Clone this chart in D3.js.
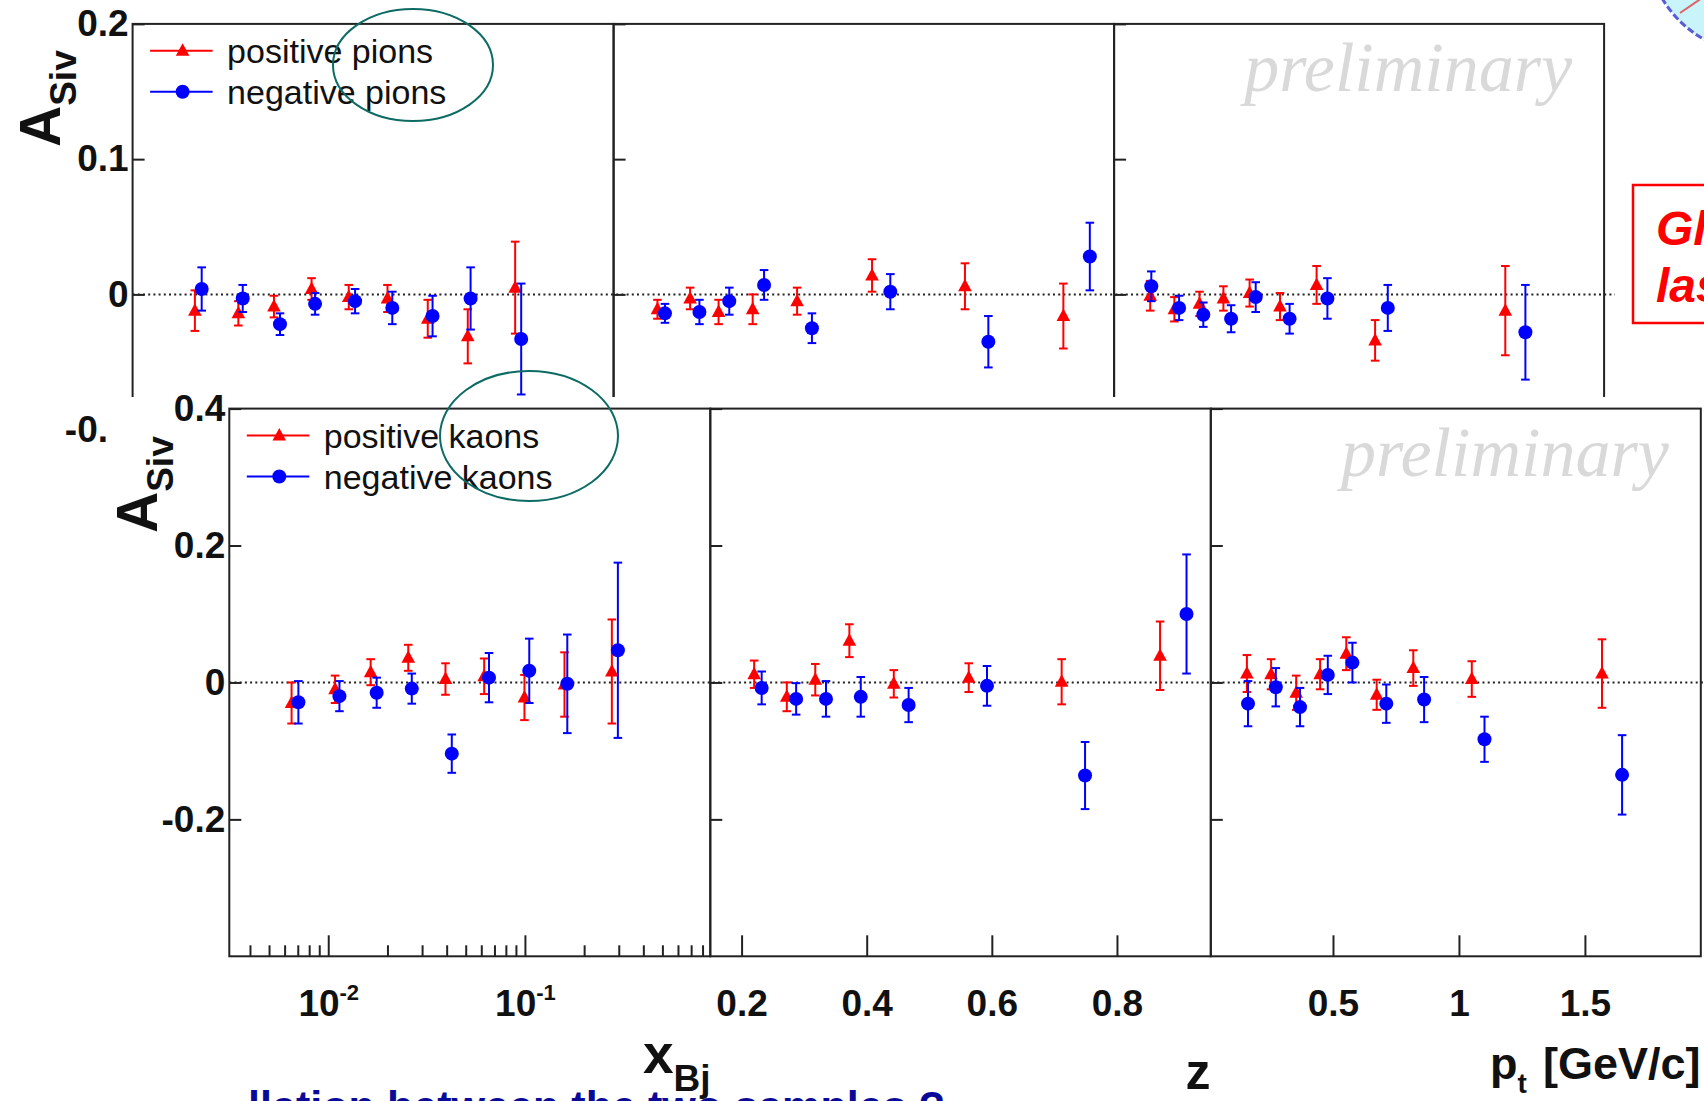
<!DOCTYPE html>
<html><head><meta charset="utf-8">
<script src="https://d3js.org/d3.v7.min.js"></script>
<style>html,body{margin:0;padding:0;background:#fff;overflow:hidden}</style>
</head><body><svg id="c" width="1704" height="1101"></svg>
<script>
// ---------- bin centres (shared binning) ----------
const xbjPosX = [0.00651, 0.01083, 0.01643, 0.02552, 0.03945, 0.06206, 0.09945, 0.1589, 0.2767];
const xbjNegX = [0.00705, 0.01140, 0.01763, 0.02659, 0.04247, 0.06566, 0.1052, 0.1642, 0.2969];
const zPosX = [0.2201, 0.2723, 0.3178, 0.3723, 0.4433, 0.5631, 0.7116, 0.8689];
const zNegX = [0.2321, 0.2872, 0.3349, 0.3905, 0.4670, 0.5923, 0.7490, 0.9112];
const ptPosX = [0.1583, 0.2543, 0.3540, 0.4489, 0.5529, 0.6735, 0.8188, 1.0510, 1.5678];
const ptNegX = [0.1627, 0.2730, 0.3691, 0.4794, 0.5771, 0.7116, 0.8617, 1.1014, 1.6476];

// ---------- pions ----------
const pionXbjPosY = [-0.012, -0.014, -0.009, 0.004, -0.002, -0.003, -0.018, -0.031, 0.005];
const pionXbjPosE = [0.015, 0.009, 0.008, 0.008, 0.009, 0.010, 0.014, 0.020, 0.034];
const pionXbjNegY = [0.004, -0.003, -0.022, -0.007, -0.005, -0.010, -0.016, -0.003, -0.033];
const pionXbjNegE = [0.016, 0.010, 0.008, 0.008, 0.009, 0.012, 0.015, 0.023, 0.041];
const pionZPosY = [-0.011, -0.003, -0.013, -0.011, -0.005, 0.014, 0.006, -0.016];
const pionZPosE = [0.007, 0.008, 0.009, 0.011, 0.010, 0.012, 0.017, 0.024];
const pionZNegY = [-0.014, -0.013, -0.005, 0.007, -0.025, 0.002, -0.035, 0.028];
const pionZNegE = [0.007, 0.009, 0.010, 0.011, 0.011, 0.013, 0.019, 0.025];
const pionPtPosY = [-0.001, -0.011, -0.007, -0.003, 0.001, -0.009, 0.007, -0.034, -0.012];
const pionPtPosE = [0.011, 0.009, 0.009, 0.009, 0.010, 0.010, 0.014, 0.015, 0.033];
const pionPtNegY = [0.006, -0.010, -0.015, -0.018, -0.002, -0.018, -0.003, -0.010, -0.028];
const pionPtNegE = [0.011, 0.009, 0.009, 0.010, 0.011, 0.011, 0.015, 0.017, 0.035];

// ---------- kaons ----------
const kaonXbjPosY = [-0.030, -0.010, 0.015, 0.036, 0.005, 0.009, -0.022, -0.003, 0.016];
const kaonXbjPosE = [0.030, 0.020, 0.019, 0.019, 0.023, 0.026, 0.033, 0.047, 0.076];
const kaonXbjNegY = [-0.029, -0.020, -0.015, -0.009, -0.104, 0.007, 0.017, -0.002, 0.047];
const kaonXbjNegE = [0.031, 0.022, 0.022, 0.022, 0.028, 0.036, 0.047, 0.072, 0.128];
const kaonZPosY = [0.012, -0.021, 0.004, 0.061, -0.002, 0.007, 0.001, 0.039];
const kaonZPosE = [0.020, 0.021, 0.023, 0.024, 0.020, 0.021, 0.033, 0.050];
const kaonZNegY = [-0.008, -0.024, -0.024, -0.021, -0.033, -0.005, -0.136, 0.100];
const kaonZNegE = [0.024, 0.023, 0.026, 0.029, 0.025, 0.029, 0.049, 0.087];
const kaonPtPosY = [0.013, 0.012, -0.015, 0.012, 0.042, -0.018, 0.021, 0.005, 0.013];
const kaonPtPosE = [0.027, 0.022, 0.025, 0.022, 0.024, 0.022, 0.026, 0.026, 0.050];
const kaonPtNegY = [-0.031, -0.007, -0.036, 0.011, 0.029, -0.031, -0.025, -0.083, -0.135];
const kaonPtNegE = [0.033, 0.028, 0.028, 0.028, 0.029, 0.028, 0.033, 0.033, 0.058];

// ---------- axes / labels ----------
const pionYTicks = [-0.1, 0, 0.1, 0.2];
const kaonYTicks = [-0.2, 0, 0.2, 0.4];
const xbjMajorTicks = [0.01, 0.1];
const zTicks = [0.2, 0.4, 0.6, 0.8];
const ptTicks = [0.5, 1, 1.5];
const pionLegend = ["positive pions", "negative pions"];
const kaonLegend = ["positive kaons", "negative kaons"];

const RED = "#ff0000", BLUE = "#0000ff";
const FONT = "'Liberation Sans', Arial, Helvetica, sans-serif";
const svg = d3.select("#c");
const panelW = [481, 500.5, 490];

function trianglePath(s) { return `M0,${-7.5*s}L${6.8*s},${5*s}L${-6.8*s},${5*s}Z`; }

function drawSeries(g, x, y, xs, ys, es, color, shape) {
  const s = g.append("g");
  const pts = xs.map((v, i) => ({x: v, y: ys[i], e: es[i]}));
  pts.forEach(p => {
    const px = x(p.x), y1 = y(p.y + p.e), y2 = y(p.y - p.e);
    s.append("line").attr("x1", px).attr("x2", px).attr("y1", y1).attr("y2", y2)
      .attr("stroke", color).attr("stroke-width", 2);
    [y1, y2].forEach(yy => s.append("line").attr("x1", px - 4.3).attr("x2", px + 4.3)
      .attr("y1", yy).attr("y2", yy).attr("stroke", color).attr("stroke-width", 2));
  });
  pts.forEach(p => {
    if (shape === "tri") s.append("path").attr("d", trianglePath(1))
      .attr("transform", `translate(${x(p.x)},${y(p.y)})`).attr("fill", color);
    else s.append("circle").attr("cx", x(p.x)).attr("cy", y(p.y)).attr("r", 7).attr("fill", color);
  });
}

function drawFigure(cfg) {
  const g = svg.append("g").attr("transform", `translate(${cfg.ox},${cfg.oy})`);
  const H = cfg.height;
  const y = d3.scaleLinear().domain(cfg.yDomain).range([H, 0]);
  const xScales = [
    d3.scaleLog().domain([0.00314, 0.876]).range([0, panelW[0]]),
    d3.scaleLinear().domain([0.15, 0.95]).range([0, panelW[1]]),
    d3.scaleLinear().domain([0.015, 1.96]).range([0, panelW[2]])
  ];
  const totalW = d3.sum(panelW);
  g.append("line").attr("x1", 0).attr("x2", cfg.zeroEnd - cfg.ox).attr("y1", y(0)).attr("y2", y(0))
    .attr("stroke", "#222").attr("stroke-width", 2).attr("stroke-dasharray", "2,3.2");
  let x0 = 0;
  cfg.panels.forEach((p, i) => {
    const W = panelW[i], x = xScales[i];
    const pg = g.append("g").attr("transform", `translate(${x0},0)`);
    const ya = pg.append("g").call(d3.axisLeft(y).tickValues(cfg.yTicks).tickSize(-12).tickPadding(4)
      .tickFormat(i === 0 ? (d => d === 0 ? "0" : String(d)) : ""));
    const xa = pg.append("g").attr("transform", `translate(0,${H})`);
    if (i === 0) {
      xa.call(d3.axisBottom(x).tickValues(xbjMajorTicks).tickSize(-21).tickFormat(""));
      const minor = [];
      [0.001, 0.01, 0.1].forEach(d => { for (let k = 2; k <= 9; k++) { const v = d * k; if (v > 0.00314 && v < 0.876) minor.push(v); } });
      const mn = pg.append("g").attr("transform", `translate(0,${H})`)
        .call(d3.axisBottom(x).tickValues(minor).tickSize(-11).tickFormat(""));
      mn.select(".domain").remove();
      mn.selectAll(".tick line").attr("stroke", "#222").attr("stroke-width", 2);
      xa.selectAll(".tick").append("text").attr("y", 60).attr("text-anchor", "middle")
        .each(function(d) {
          const t = d3.select(this);
          t.append("tspan").text("10");
          t.append("tspan").attr("font-size", 22).attr("dy", -16).text(String(Math.round(Math.log10(d))));
        });
    } else {
      xa.call(d3.axisBottom(x).tickValues(i === 1 ? zTicks : ptTicks).tickSize(-21).tickPadding(0)
        .tickFormat(d => String(d)));
      xa.selectAll(".tick text").attr("y", 60).attr("dy", null);
    }
    [ya, xa].forEach(a => {
      a.select(".domain").remove();
      a.selectAll(".tick line").attr("stroke", "#222").attr("stroke-width", 2);
      a.selectAll("text").attr("fill", "#111").attr("font-size", 37).attr("font-weight", "bold").attr("font-family", FONT);
    });
    xa.selectAll("text tspan:nth-child(2)").attr("font-size", 22);
    pg.append("rect").attr("x", 0).attr("y", 0).attr("width", W).attr("height", H)
      .attr("fill", "none").attr("stroke", "#222").attr("stroke-width", 2);
    drawSeries(pg, x, y, p.posX, p.posY, p.posE, RED, "tri");
    drawSeries(pg, x, y, p.negX, p.negY, p.negE, BLUE, "circ");
    x0 += W;
  });
  g.append("text").attr("x", totalW - 32).attr("y", 67).attr("text-anchor", "end")
    .attr("font-family", "'Liberation Serif', 'Times New Roman', serif").attr("font-style", "italic")
    .attr("font-size", 70).attr("fill", "#d9d9d9").text("preliminary");
  [[RED, "tri", cfg.legend[0], 26.8], [BLUE, "circ", cfg.legend[1], 67.9]].forEach(([c, sh, lab, ly]) => {
    g.append("line").attr("x1", 17.5).attr("x2", 80).attr("y1", ly).attr("y2", ly).attr("stroke", c).attr("stroke-width", 2);
    if (sh === "tri") g.append("path").attr("d", trianglePath(1)).attr("transform", `translate(50,${ly})`).attr("fill", c);
    else g.append("circle").attr("cx", 50).attr("cy", ly).attr("r", 7).attr("fill", c);
    g.append("text").attr("x", 94.5).attr("y", ly).attr("dy", "0.36em").attr("font-family", FONT)
      .attr("font-size", 34).attr("fill", "#111").text(lab);
  });
  const t = svg.append("text").attr("transform", `translate(${cfg.titleX},${cfg.titleY}) rotate(-90)`)
    .attr("font-family", FONT).attr("font-weight", "bold").attr("font-size", 57).attr("fill", "#111");
  t.append("tspan").text("A");
  t.append("tspan").attr("font-size", 37).attr("dy", 16).text("Siv");
}

// ---------- top figure : pions ----------
drawFigure({
  ox: 132.6, oy: 23.9, height: 541, yDomain: [-0.2, 0.2], yTicks: pionYTicks, zeroEnd: 1615,
  legend: pionLegend, titleX: 60, titleY: 147,
  panels: [
    {posX: xbjPosX, posY: pionXbjPosY, posE: pionXbjPosE, negX: xbjNegX, negY: pionXbjNegY, negE: pionXbjNegE},
    {posX: zPosX, posY: pionZPosY, posE: pionZPosE, negX: zNegX, negY: pionZNegY, negE: pionZNegE},
    {posX: ptPosX, posY: pionPtPosY, posE: pionPtPosE, negX: ptNegX, negY: pionPtNegY, negE: pionPtNegE}
  ]
});

// white background of the pasted lower figure
svg.append("rect").attr("x", 109).attr("y", 397).attr("width", 1704 - 109).attr("height", 1101 - 397).attr("fill", "#fff");

// ---------- bottom figure : kaons ----------
drawFigure({
  ox: 229.3, oy: 408.6, height: 547.7, yDomain: [-0.4, 0.4], yTicks: kaonYTicks, zeroEnd: 1704,
  legend: kaonLegend, titleX: 157, titleY: 533,
  panels: [
    {posX: xbjPosX, posY: kaonXbjPosY, posE: kaonXbjPosE, negX: xbjNegX, negY: kaonXbjNegY, negE: kaonXbjNegE},
    {posX: zPosX, posY: kaonZPosY, posE: kaonZPosE, negX: zNegX, negY: kaonZNegY, negE: kaonZNegE},
    {posX: ptPosX, posY: kaonPtPosY, posE: kaonPtPosE, negX: ptNegX, negY: kaonPtNegY, negE: kaonPtNegE}
  ]
});

// x axis titles
const xt = svg.append("text").attr("x", 643).attr("y", 1073).attr("font-family", FONT).attr("font-weight", "bold")
  .attr("font-size", 55).attr("fill", "#111");
xt.append("tspan").text("x");
xt.append("tspan").attr("font-size", 37).attr("dy", 18).text("Bj");
svg.append("text").attr("x", 1198).attr("y", 1089).attr("text-anchor", "middle").attr("font-family", FONT)
  .attr("font-weight", "bold").attr("font-size", 50).attr("fill", "#111").text("z");
const pt = svg.append("text").attr("x", 1490).attr("y", 1079).attr("font-family", FONT).attr("font-weight", "bold")
  .attr("font-size", 45).attr("fill", "#111");
pt.append("tspan").text("p");
pt.append("tspan").attr("font-size", 28).attr("dy", 14).text("t");
pt.append("tspan").attr("x", 1543).attr("dy", -14).text("[GeV/c]");

// ---------- annotations ----------
svg.append("ellipse").attr("cx", 413).attr("cy", 65).attr("rx", 80).attr("ry", 56)
  .attr("fill", "none").attr("stroke", "#0d6b63").attr("stroke-width", 2);
svg.append("ellipse").attr("cx", 529).attr("cy", 436).attr("rx", 89).attr("ry", 65)
  .attr("fill", "none").attr("stroke", "#0d6b63").attr("stroke-width", 2);

svg.append("circle").attr("cx", 1760).attr("cy", -60).attr("r", 114).attr("fill", "#c8f4fa")
  .attr("stroke", "#5b5bd6").attr("stroke-width", 3).attr("stroke-dasharray", "7,3");
svg.append("line").attr("x1", 1680).attr("y1", 13).attr("x2", 1702).attr("y2", -2).attr("stroke", "#e06060").attr("stroke-width", 2);

svg.append("rect").attr("x", 1633).attr("y", 185).attr("width", 200).attr("height", 138)
  .attr("fill", "none").attr("stroke", "#ff0000").attr("stroke-width", 2.5);
[["Global", 245], ["last", 302]].forEach(([s, yy]) => svg.append("text").attr("x", 1656).attr("y", yy)
  .attr("font-family", FONT).attr("font-weight", "bold").attr("font-style", "italic").attr("font-size", 48)
  .attr("fill", "#ff0000").text(s));

svg.append("text").attr("x", 248).attr("y", 1121).attr("font-family", FONT).attr("font-weight", "bold")
  .attr("font-size", 42).attr("fill", "#0a0a99").attr("textLength", 697).attr("lengthAdjust", "spacingAndGlyphs")
  .text("llation between the two samples ?");
</script>
</body></html>
